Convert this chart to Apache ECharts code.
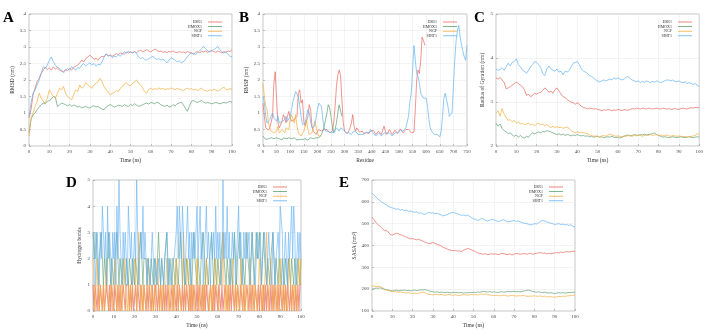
<!DOCTYPE html>
<html><head><meta charset="utf-8">
<script src="https://cdn.jsdelivr.net/npm/echarts@6/dist/echarts.min.js"></script>
<style>html,body{margin:0;padding:0;background:#fff}#c{width:706px;height:331px}</style>
</head><body><div id="c"></div>
<script>
const names = ['ESR1','HMOX1','NGF','SIRT1'];
const colors = ['#e8675b','#5e9e72','#f4ad3d','#62b1f4'];

// Panel A: RMSD (nm), one value per ns, 0..100
const rmsdESR1 = [0.85,
1.1,1.55,1.75,1.95,2.05,2.2,2.3,2.38,2.32,2.36,
2.3,2.4,2.33,2.38,2.3,2.27,2.25,2.32,2.28,2.35,
2.3,2.38,2.42,2.45,2.52,2.6,2.55,2.65,2.7,2.75,
2.7,2.62,2.66,2.6,2.68,2.72,2.7,2.78,2.74,2.76,
2.72,2.75,2.8,2.77,2.82,2.8,2.78,2.84,2.82,2.85,
2.82,2.86,2.83,2.88,2.9,2.86,2.88,2.92,2.88,2.85,
2.9,2.94,2.9,2.86,2.88,2.84,2.86,2.83,2.87,2.85,
2.88,2.84,2.82,2.86,2.84,2.85,2.82,2.86,2.84,2.82,
2.78,2.84,2.86,2.83,2.87,2.85,2.88,2.84,2.87,2.9,
2.86,2.84,2.88,2.85,2.82,2.86,2.84,2.88,2.86,2.92];
const rmsdHMOX1 = [0.4,
0.8,0.95,1.0,1.1,1.18,1.25,1.3,1.28,1.35,1.38,
1.42,1.5,1.48,1.2,1.25,1.3,1.28,1.25,1.22,1.26,
1.2,1.24,1.22,1.18,1.2,1.15,1.18,1.2,1.16,1.15,
1.2,1.22,1.18,1.2,1.15,1.12,1.1,1.18,1.22,1.26,
1.22,1.18,1.2,1.24,1.22,1.2,1.25,1.22,1.2,1.26,
1.22,1.28,1.24,1.2,1.22,1.25,1.28,1.3,1.27,1.32,
1.3,1.28,1.33,1.3,1.25,1.22,1.2,1.24,1.18,1.2,
1.25,1.22,1.28,1.3,1.33,1.25,1.15,1.05,1.2,1.35,
1.38,1.34,1.32,1.35,1.38,1.33,1.3,1.32,1.3,1.28,
1.3,1.32,1.3,1.28,1.3,1.32,1.3,1.33,1.35,1.32];
const rmsdNGF = [0.3,
0.85,1.0,1.2,1.35,1.6,1.45,1.35,1.3,1.45,1.7,
1.6,1.5,1.45,1.6,1.75,1.7,1.8,1.6,1.5,1.45,
1.4,1.55,1.7,1.65,1.85,1.75,1.8,1.92,1.85,1.8,
1.75,1.85,1.9,1.95,2.05,1.95,1.8,1.7,1.65,1.55,
1.6,1.62,1.68,1.65,1.75,1.8,1.88,1.92,1.85,1.82,
1.9,1.95,2.0,1.9,1.85,1.75,1.65,1.6,1.72,1.75,
1.7,1.74,1.72,1.76,1.72,1.75,1.7,1.74,1.72,1.76,
1.73,1.7,1.75,1.72,1.7,1.68,1.72,1.75,1.72,1.74,
1.7,1.72,1.68,1.72,1.75,1.7,1.68,1.66,1.7,1.68,
1.72,1.7,1.66,1.7,1.75,1.78,1.72,1.7,1.74,1.72];
const rmsdSIRT1 = [0.9,
1.3,1.6,1.7,1.85,2.0,2.2,2.4,2.35,2.45,2.6,
2.7,2.55,2.45,2.38,2.35,2.3,2.22,2.28,2.35,2.3,
2.4,2.35,2.3,2.38,2.35,2.45,2.5,2.42,2.48,2.52,
2.45,2.5,2.42,2.48,2.45,2.55,2.7,2.8,2.72,2.75,
2.68,2.72,2.7,2.76,2.72,2.8,2.85,2.82,2.87,2.84,
2.82,2.86,2.8,2.7,2.65,2.68,2.62,2.6,2.65,2.68,
2.72,2.66,2.62,2.65,2.6,2.63,2.58,2.52,2.6,2.68,
2.64,2.6,2.55,2.58,2.52,2.55,2.62,2.7,2.78,2.82,
2.8,2.78,2.82,2.88,2.95,3.02,2.95,2.88,2.85,2.88,
2.92,2.96,3.02,2.92,2.86,2.82,2.85,2.78,2.72,2.7];

// Panel B: RMSF (nm), one value per 5 residues
const rmsfESR1 = [1.3,0.9,0.55,0.5,0.48,0.55,0.5,0.9,1.9,2.25,
1.4,0.7,0.55,0.6,0.75,0.95,0.85,0.7,0.9,1.05,
0.85,0.75,0.7,0.8,0.75,0.9,1.6,1.7,1.3,1.4,
0.75,0.6,0.65,0.9,1.25,1.1,0.6,0.45,0.4,0.35,
0.4,0.5,0.55,0.45,0.4,0.5,0.55,0.5,0.45,0.4,
0.35,0.45,0.7,1.2,1.8,2.15,2.3,2.15,1.4,0.7,
0.45,0.4,0.38,0.45,0.55,0.7,0.95,0.6,0.45,0.55,
0.5,0.42,0.4,0.45,0.38,0.35,0.4,0.42,0.38,0.45,
0.5,0.48,0.42,0.35,0.38,0.45,0.4,0.35,0.38,0.6,
0.45,0.35,0.4,0.5,0.42,0.35,0.4,0.48,0.42,0.38,
0.45,0.52,0.48,0.4,0.45,0.5,0.55,0.5,0.45,0.4,
0.38,0.42,1.1,2.0,2.3,2.2,2.6,3.3,3.2,3.05];
const rmsfHMOX1 = [0.3,0.25,0.2,0.25,0.22,0.2,0.25,0.2,0.22,0.28,
0.25,0.2,0.22,0.2,0.18,0.25,0.28,0.22,0.2,0.25,
0.2,0.22,0.28,0.25,0.2,0.18,0.22,0.2,0.15,0.2,
0.25,0.22,0.2,0.18,0.22,0.25,0.2,0.22,0.28,0.25,
0.2,0.25,0.3,0.35,0.45,0.6,0.8,1.0,1.25,1.15,
0.9,0.6,0.4,0.5,0.7,1.0,1.25,1.3,0.9];
const rmsfNGF = [1.9,1.5,1.2,1.1,0.7,0.55,0.45,0.5,0.4,0.35,
0.45,0.6,0.4,0.35,0.5,0.45,0.4,0.55,0.6,0.5,
0.8,0.95,0.9,0.7,0.95,0.6,0.4,0.35,0.3,0.35,
0.45,0.6,0.8,0.5,0.35,0.3,0.4,0.55,0.75,0.6,
0.4,0.3,0.25,0.3];
const rmsfSIRT1 = [1.5,1.3,0.9,0.7,0.75,0.8,0.9,1.0,0.85,0.8,
0.75,0.9,0.7,0.65,0.75,0.7,0.8,0.9,0.75,0.7,
0.9,1.1,1.35,1.5,1.65,1.7,1.5,1.2,0.9,0.65,
0.6,0.7,0.9,1.1,1.0,0.75,0.55,0.5,0.6,0.85,
1.1,1.3,1.35,1.2,0.8,0.55,0.45,0.4,0.45,0.5,
0.4,0.35,0.4,0.45,0.55,0.5,0.45,0.55,0.6,0.5,
0.45,0.4,0.35,0.4,0.38,0.35,0.42,0.4,0.45,0.42,
0.35,0.3,0.35,0.4,0.35,0.38,0.42,0.45,0.4,0.5,
0.45,0.4,0.35,0.3,0.35,0.4,0.38,0.3,0.35,0.4,
0.45,0.38,0.35,0.4,0.35,0.3,0.35,0.4,0.45,0.4,
0.42,0.48,0.5,0.45,0.5,0.55,0.6,0.9,1.35,1.6,
2.3,3.05,2.6,2.2,2.1,1.9,1.6,1.55,1.45,1.5,
1.45,1.2,0.8,0.55,0.45,0.4,0.35,0.3,0.35,0.3,
0.28,0.45,0.9,1.45,1.6,1.4,1.2,0.9,0.85,1.0,
1.8,2.6,3.2,3.5,3.65,3.3,3.05,3.0,2.7,2.6,
3.05];

// Panel C: Radius of gyration (nm), one value per ns
const rgESR1 = [3.55,
3.52,3.56,3.5,3.45,3.3,3.32,3.35,3.38,3.42,3.45,
3.42,3.38,3.35,3.28,3.15,3.18,3.12,3.15,3.2,3.18,
3.2,3.22,3.26,3.32,3.28,3.22,3.25,3.2,3.28,3.32,
3.25,3.18,3.12,3.1,3.06,3.02,3.0,2.98,2.95,2.98,
2.95,2.9,2.88,2.86,2.84,2.86,2.85,2.84,2.85,2.83,
2.82,2.8,2.82,2.81,2.83,2.82,2.8,2.82,2.81,2.83,
2.82,2.8,2.83,2.82,2.81,2.83,2.85,2.84,2.86,2.85,
2.84,2.86,2.85,2.84,2.86,2.85,2.84,2.85,2.86,2.85,
2.84,2.86,2.85,2.84,2.85,2.83,2.84,2.85,2.84,2.83,
2.85,2.86,2.85,2.84,2.86,2.87,2.86,2.88,2.87,2.88];
const rgHMOX1 = [2.52,
2.45,2.5,2.4,2.35,2.32,2.28,2.3,2.25,2.22,2.25,
2.2,2.24,2.2,2.18,2.22,2.2,2.26,2.3,2.28,2.3,
2.32,2.3,2.33,2.32,2.35,2.34,2.32,2.3,2.28,2.26,
2.28,2.25,2.27,2.24,2.26,2.25,2.23,2.25,2.24,2.26,
2.24,2.23,2.24,2.22,2.23,2.21,2.22,2.2,2.21,2.22,
2.2,2.21,2.19,2.2,2.21,2.2,2.22,2.2,2.19,2.2,
2.18,2.2,2.22,2.24,2.25,2.23,2.24,2.26,2.25,2.24,
2.26,2.25,2.27,2.25,2.26,2.27,2.28,2.3,2.26,2.24,
2.22,2.2,2.21,2.2,2.19,2.2,2.21,2.2,2.19,2.2,
2.21,2.2,2.19,2.2,2.21,2.2,2.19,2.2,2.21,2.2];
const rgNGF = [2.75,
2.8,2.68,2.85,2.72,2.65,2.58,2.6,2.55,2.58,2.52,
2.55,2.5,2.52,2.48,2.5,2.52,2.48,2.5,2.46,2.5,
2.52,2.48,2.5,2.45,2.5,2.44,2.42,2.45,2.42,2.44,
2.42,2.43,2.4,2.42,2.43,2.4,2.35,2.32,2.3,2.32,
2.3,2.31,2.3,2.29,2.28,2.25,2.24,2.22,2.23,2.22,
2.2,2.23,2.24,2.22,2.25,2.27,2.25,2.24,2.22,2.23,
2.22,2.21,2.23,2.22,2.24,2.23,2.22,2.24,2.23,2.25,
2.24,2.22,2.24,2.25,2.24,2.26,2.24,2.25,2.26,2.24,
2.25,2.23,2.24,2.25,2.23,2.22,2.24,2.23,2.22,2.23,
2.22,2.21,2.22,2.2,2.22,2.21,2.23,2.24,2.28,2.27];
const rgSIRT1 = [3.75,
3.72,3.74,3.78,3.72,3.8,3.88,3.82,3.9,3.92,3.98,
3.85,3.8,3.72,3.7,3.65,3.72,3.8,3.85,3.92,3.9,
3.85,3.78,3.65,3.6,3.75,3.82,3.75,3.72,3.7,3.75,
3.68,3.7,3.62,3.7,3.68,3.72,3.8,3.88,3.9,3.92,
3.85,3.75,3.7,3.68,3.65,3.6,3.58,3.55,3.5,3.48,
3.45,3.48,3.5,3.48,3.5,3.52,3.5,3.55,3.52,3.55,
3.52,3.5,3.52,3.56,3.58,3.54,3.5,3.48,3.46,3.48,
3.44,3.47,3.45,3.48,3.46,3.44,3.47,3.45,3.48,3.46,
3.44,3.46,3.48,3.5,3.5,3.48,3.5,3.47,3.46,3.48,
3.45,3.44,3.46,3.42,3.44,3.42,3.4,3.42,3.38,3.36];

// Panel D: hydrogen bonds, one value per 0.5 ns
const hbESR1 = [1,0,1,1,0,1,0,1,1,0, 1,0,0,1,1,0,1,0,1,1, 0,1,1,0,1,0,1,0,0,1, 1,0,1,1,1,0,1,0,1,0,
0,1,0,1,1,0,1,1,0,1, 1,0,1,0,1,1,0,1,0,0, 1,1,0,1,0,1,1,0,1,0, 1,0,1,1,0,0,1,0,1,1,
0,1,0,1,1,0,1,0,1,0, 1,1,0,1,0,1,0,1,1,0, 1,0,1,1,0,1,0,1,0,1, 1,0,0,1,1,0,1,0,1,1,
0,1,1,0,1,0,0,1,1,0, 1,0,1,0,1,1,0,1,0,1, 1,0,1,1,0,1,0,0,1,1, 0,1,0,1,1,0,1,1,0,1,
0,1,1,0,1,0,1,0,1,1, 0,1,0,1,0,1,1,0,1,0, 1,1,0,1,0,1,0,1,1,0, 1,0,1,1,0,1,0,1,0,1, 1];
const hbHMOX1 = [3,3,2,3,2,1,2,2,3,2, 1,2,2,1,2,3,2,1,2,2, 1,2,2,3,2,1,2,2,1,2, 2,1,2,2,1,2,2,1,2,2,
1,2,2,1,2,2,3,2,1,2, 2,2,1,2,2,1,2,2,1,2, 2,1,2,3,2,1,2,2,1,2, 2,3,2,1,2,2,1,2,2,1,
2,2,1,2,3,2,1,2,2,1, 2,2,1,2,2,1,2,3,2,2, 1,2,2,1,2,2,3,2,1,2, 2,1,2,2,3,2,1,2,2,1,
2,2,1,2,2,3,2,2,1,2, 2,1,2,2,1,2,3,2,1,2, 2,3,2,1,2,2,1,2,3,2, 2,1,2,3,2,1,2,3,2,2,
3,2,1,2,3,2,2,1,2,2, 1,2,2,3,2,1,2,2,1,2, 2,1,2,2,1,2,2,1,2,2, 1,2,2,1,2,2,1,2,2,1, 2];
const hbNGF = [2,1,0,1,2,1,0,1,1,0, 1,0,1,2,1,1,0,1,1,0, 1,2,1,0,1,1,0,1,0,1, 2,1,1,0,1,0,1,0,1,1,
2,1,0,1,3,1,0,1,0,1, 1,0,1,2,1,0,1,1,0,1, 0,1,2,1,0,1,0,1,1,0, 1,2,1,0,1,1,0,1,0,1,
2,1,0,1,1,0,1,3,1,0, 1,2,1,0,1,0,1,1,0,1, 2,1,0,1,1,0,1,0,1,2, 1,1,0,1,0,1,0,1,2,1,
1,0,1,2,1,3,1,0,1,0, 1,0,1,1,2,1,0,1,0,1, 1,0,2,1,0,1,0,1,1,0, 1,2,1,0,1,0,1,1,0,1,
2,1,0,1,0,1,1,3,1,0, 1,2,1,0,1,1,0,1,0,1, 2,1,0,1,0,1,1,0,1,2, 1,0,1,0,1,1,0,1,2,1, 2];
const hbSIRT1 = [2,3,1,2,3,2,1,3,2,4, 4,2,3,1,4,2,3,2,1,3, 2,3,1,4,2,5,3,2,1,3, 2,3,2,1,4,3,2,3,1,2,
3,2,5,3,1,2,3,2,4,2, 3,2,1,2,2,1,2,3,2,1, 2,2,1,2,2,1,2,2,1,2, 2,3,1,2,2,1,2,2,2,2,
3,4,2,4,3,2,4,3,1,2, 3,4,2,3,1,3,2,3,2,3, 4,2,3,4,2,3,1,2,3,4, 2,3,2,1,3,2,3,2,4,2,
3,2,3,1,2,5,2,3,2,4, 2,3,1,2,3,2,3,1,2,3, 4,2,3,2,1,3,2,3,2,2, 3,1,2,3,2,2,1,2,3,2,
2,3,1,2,2,3,2,1,2,3, 2,2,1,3,2,1,2,2,3,2, 4,4,3,1,2,3,2,1,3,2, 3,4,2,4,3,1,2,3,2,3, 2];

// Panel E: SASA (nm^2), one value per ns
const sasaESR1 = [530,
518,505,495,488,478,470,468,462,450,448,
452,456,454,450,446,442,438,434,430,432,
428,426,428,424,420,416,412,408,410,414,
410,406,402,398,392,388,384,380,378,376,
378,374,376,372,378,382,386,384,380,376,
372,366,364,362,360,362,358,360,362,360,
362,358,360,364,362,360,358,362,356,360,
364,362,360,362,364,360,362,364,360,362,
364,366,368,364,366,362,364,362,364,366,
368,366,370,368,370,372,370,372,374,372];
const sasaHMOX1 = [200,
202,205,204,206,203,200,198,196,194,192,
194,196,192,195,194,196,193,195,192,194,
196,194,195,197,196,198,196,192,190,188,
186,188,185,187,186,184,186,185,183,186,
184,186,183,185,182,184,183,185,184,186,
185,187,186,188,190,188,187,189,186,188,
186,185,187,188,186,188,190,188,189,190,
188,189,187,190,192,194,196,194,190,188,
186,188,186,184,186,184,182,184,182,180,
182,184,182,184,182,183,185,184,186,185];
const sasaNGF = [215,
214,212,213,211,208,200,196,194,190,188,
190,188,186,188,185,184,182,184,181,180,
182,180,182,184,186,184,180,176,175,174,
176,175,174,176,174,172,174,176,173,172,
174,172,170,173,175,174,172,174,176,174,
175,173,176,178,176,178,175,173,172,170,
172,171,169,171,173,170,168,170,172,170,
168,170,169,171,170,168,167,169,168,170,
168,167,169,166,168,166,164,166,164,163,
165,167,166,168,167,169,170,171,172,173];
const sasaSIRT1 = [640,
630,622,612,605,598,592,588,580,575,572,
570,566,568,562,565,560,562,556,558,555,
552,554,548,550,545,542,548,552,548,550,
546,548,544,540,535,538,542,546,550,552,
548,545,542,538,540,536,540,534,528,522,
520,515,518,524,520,515,512,516,520,518,
514,510,512,516,518,512,508,510,512,515,
510,512,508,505,502,500,498,494,496,500,
498,504,510,515,512,508,505,502,500,496,
498,500,496,498,494,496,492,495,488,484];

// Tick settings per panel
const xTicksTime = {min:0, max:100, interval:10};
const xTicksResidue = {min:0, max:750, interval:50};
const yTicksA = {min:0, max:4, interval:0.5};
const yTicksB = {min:0, max:4, interval:0.5};
const yTicksC = {min:2, max:5, interval:1};
const yTicksD = {min:0, max:5, interval:1};
const yTicksE = {min:100, max:700, interval:100};

const FONT = 'Liberation Serif';
const grids = [
  {left:29, top:14, width:203, height:132},
  {left:263, top:14, width:204, height:132},
  {left:496, top:14, width:207, height:132},
  {left:93, top:180, width:208, height:131},
  {left:372, top:180, width:203, height:131}
].map(g => Object.assign({show:true, borderColor:'#9a9a9a', borderWidth:0.6, backgroundColor:'transparent'}, g));

function axisCommon(){
  return {
    axisLine:{show:false},
    axisTick:{show:true, inside:true, length:2, lineStyle:{color:'#888', width:0.5}},
    axisLabel:{fontSize:5, color:'#444', fontFamily:FONT, margin:3},
    splitLine:{show:true, lineStyle:{color:'#e6e6e6', width:0.5}},
    nameTextStyle:{fontSize:5.5, color:'#333', fontFamily:FONT},
    nameLocation:'middle'
  };
}
function xAx(gi, t, name, gap){
  return Object.assign(axisCommon(), {type:'value', gridIndex:gi, name:name, nameGap:gap}, t);
}
function yAx(gi, t, name, gap){
  return Object.assign(axisCommon(), {type:'value', gridIndex:gi, name:name, nameGap:gap, nameRotate:90}, t);
}

const xAxes = [
  xAx(0, xTicksTime, 'Time (ns)', 12),
  xAx(1, xTicksResidue, 'Residue', 12),
  xAx(2, xTicksTime, 'Time (ns)', 12),
  xAx(3, xTicksTime, 'Time (ns)', 12),
  xAx(4, xTicksTime, 'Time (ns)', 12)
];
const yAxes = [
  yAx(0, yTicksA, 'RMSD (nm)', 13),
  yAx(1, yTicksB, 'RMSF (nm)', 13),
  yAx(2, yTicksC, 'Radius of Gyration (nm)', 10),
  yAx(3, yTicksD, 'Hydrogen bonds', 10),
  yAx(4, yTicksE, 'SASA (nm²)', 14)
];

function mk(gi, vals, step, k, width, opacity){
  return {
    type:'line', name:names[k], xAxisIndex:gi, yAxisIndex:gi,
    data: vals.map((v,i)=>[i*step, v]),
    symbol:'none', showSymbol:false, animation:false,
    lineStyle:{width:width||0.7, color:colors[k], opacity:opacity==null?1:opacity},
    itemStyle:{color:colors[k]}
  };
}

const series = [
  mk(0, rmsdESR1, 1, 0), mk(0, rmsdHMOX1, 1, 1), mk(0, rmsdNGF, 1, 2), mk(0, rmsdSIRT1, 1, 3),
  mk(1, rmsfESR1, 5, 0), mk(1, rmsfHMOX1, 5, 1), mk(1, rmsfNGF, 5, 2), mk(1, rmsfSIRT1, 5, 3),
  mk(2, rgESR1, 1, 0), mk(2, rgHMOX1, 1, 1), mk(2, rgNGF, 1, 2), mk(2, rgSIRT1, 1, 3),
  mk(3, hbESR1, 0.5, 0, 1.1, 0.7), mk(3, hbHMOX1, 0.5, 1, 1.0, 0.6), mk(3, hbNGF, 0.5, 2, 1.0, 0.6), mk(3, hbSIRT1, 0.5, 3, 1.0, 0.6),
  mk(4, sasaESR1, 1, 0), mk(4, sasaHMOX1, 1, 1), mk(4, sasaNGF, 1, 2), mk(4, sasaSIRT1, 1, 3)
];

function leg(right, top){
  return {
    data:names, orient:'vertical', right:right, top:top, align:'right',
    icon:'rect', itemWidth:14, itemHeight:0.8, itemGap:0.6,
    textStyle:{fontSize:4, color:'#333', fontFamily:FONT, lineHeight:4, padding:[0,1,0,0]},
    padding:0, selectedMode:false
  };
}
const legends = [leg(484, 20), leg(249, 20), leg(14, 20), leg(419, 185), leg(143, 185)];

function letter(t, x, y){
  return {type:'text', left:x, top:y, style:{text:t, fontSize:15, fontWeight:'bold', fontFamily:FONT, fill:'#000'}};
}

const chart = echarts.init(document.getElementById('c'), null, {renderer:'canvas'});
chart.setOption({
  animation:false,
  backgroundColor:'#fff',
  grid:grids, xAxis:xAxes, yAxis:yAxes, legend:legends, series:series,
  graphic:[letter('A',3,11), letter('B',239,11), letter('C',474,11), letter('D',66,176), letter('E',339,176)]
});
</script></body></html>
